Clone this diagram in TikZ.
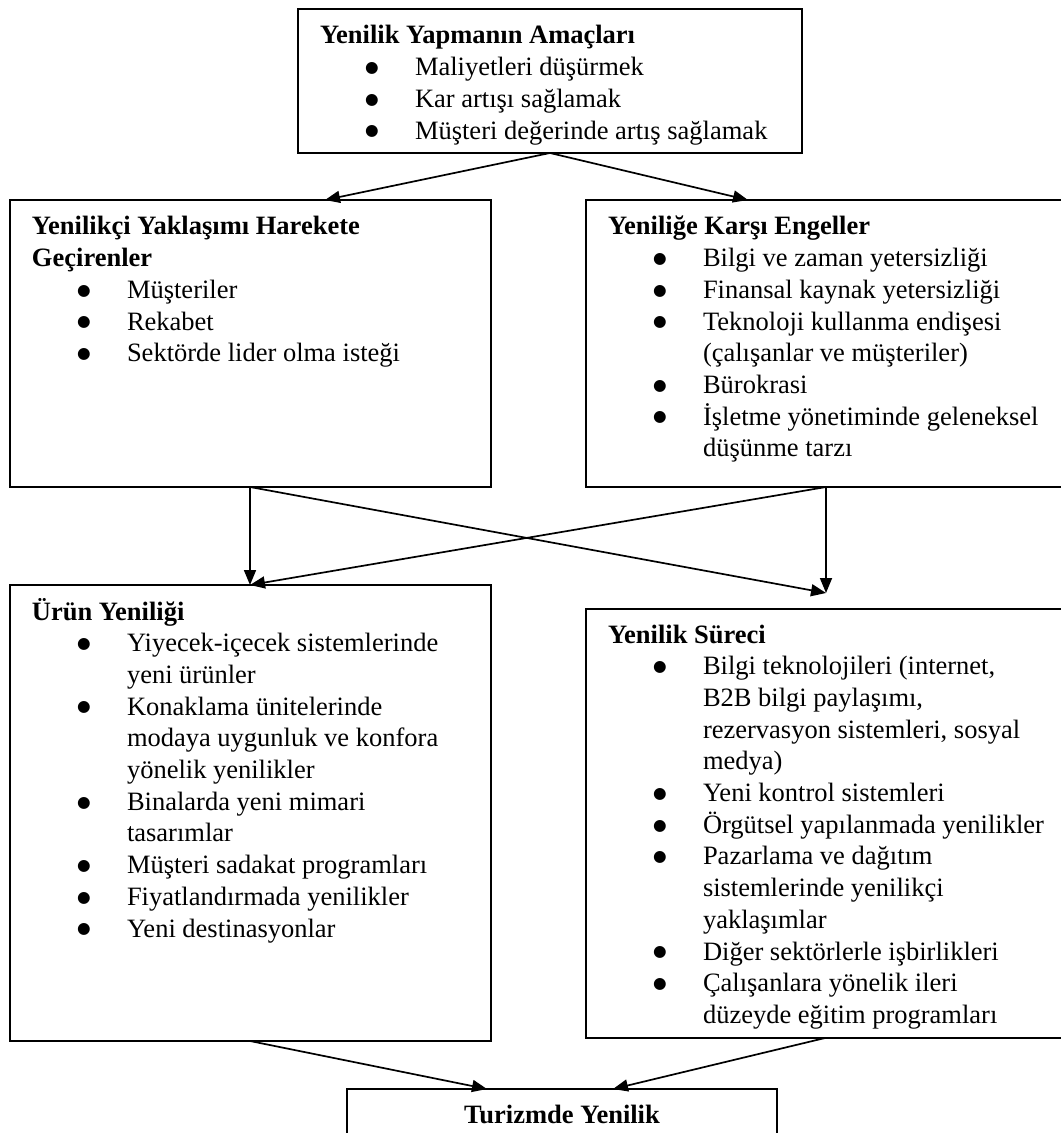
\documentclass[tikz,border=0pt]{standalone}
\usepackage{fontspec}
\setmainfont{Liberation Serif}
\newfontfamily\dotfont{DejaVu Sans}
\usetikzlibrary{arrows.meta,calc}

% bullet line, continuation line and a fixed-height strut for the first line
\newcommand\bdot{\raisebox{1.6pt}{\dotfont\fontsize{7.8}{0}\selectfont ●}}
\newcommand\bitem{\hspace*{26pt}\makebox[0pt]{\bdot}\hspace*{21.5pt}}
\newcommand\bcont{\hspace*{47.5pt}}
\newcommand\lstrut{\rule{0pt}{12pt}}

\begin{document}
\begin{tikzpicture}[x=0.5pt,y=-0.5pt,
  box/.style={draw, line width=1pt, rectangle, inner sep=0pt, outer sep=0pt, anchor=north west},
  txt/.style={anchor=north west, inner sep=0pt, outer sep=0pt, align=left,
              font=\fontsize{13.25}{15.85}\selectfont},
  conn/.style={line width=0.85pt, -{Triangle[length=7.5pt,width=6pt]}}]
\useasboundingbox[fill=white] (0,0) rectangle (1060,1133);

% frames
\node[box, minimum width=252pt, minimum height=72pt]    (top) at (298,9) {};
\node[box, minimum width=240.5pt, minimum height=143.5pt] (lb) at (10,200) {};
\node[box, minimum width=245pt, minimum height=143.5pt]   (rb) at (586,200) {};
\node[box, minimum width=240.5pt, minimum height=228pt]   (pl) at (10,585) {};
\node[box, minimum width=245pt, minimum height=214.5pt]   (pr) at (586,609) {};
\node[box, minimum width=215pt, minimum height=30pt]      (tb) at (347,1089) {};

% contents
\node[txt] (toptxt) at (320,20) {\lstrut\textbf{Yenilik Yapmanın Amaçları}\\
  \bitem Maliyetleri düşürmek\\
  \bitem Kar artışı sağlamak\\
  \bitem Müşteri değerinde artış sağlamak};

\node[txt] (lbtxt) at (32,211) {\lstrut\textbf{Yenilikçi Yaklaşımı Harekete}\\
  \textbf{Geçirenler}\\
  \bitem Müşteriler\\
  \bitem Rekabet\\
  \bitem Sektörde lider olma isteği};

\node[txt] (rbtxt) at (608,211) {\lstrut\textbf{Yeniliğe Karşı Engeller}\\
  \bitem Bilgi ve zaman yetersizliği\\
  \bitem Finansal kaynak yetersizliği\\
  \bitem Teknoloji kullanma endişesi\\
  \bcont (çalışanlar ve müşteriler)\\
  \bitem Bürokrasi\\
  \bitem İşletme yönetiminde geleneksel\\
  \bcont düşünme tarzı};

\node[txt] (pltxt) at (32,596) {\lstrut\textbf{Ürün Yeniliği}\\
  \bitem Yiyecek-içecek sistemlerinde\\
  \bcont yeni ürünler\\
  \bitem Konaklama ünitelerinde\\
  \bcont modaya uygunluk ve konfora\\
  \bcont yönelik yenilikler\\
  \bitem Binalarda yeni mimari\\
  \bcont tasarımlar\\
  \bitem Müşteri sadakat programları\\
  \bitem Fiyatlandırmada yenilikler\\
  \bitem Yeni destinasyonlar};

\node[txt] (prtxt) at (608,619) {\lstrut\textbf{Yenilik Süreci}\\
  \bitem Bilgi teknolojileri (internet,\\
  \bcont B2B bilgi paylaşımı,\\
  \bcont rezervasyon sistemleri, sosyal\\
  \bcont medya)\\
  \bitem Yeni kontrol sistemleri\\
  \bitem Örgütsel yapılanmada yenilikler\\
  \bitem Pazarlama ve dağıtım\\
  \bcont sistemlerinde yenilikçi\\
  \bcont yaklaşımlar\\
  \bitem Diğer sektörlerle işbirlikleri\\
  \bitem Çalışanlara yönelik ileri\\
  \bcont düzeyde eğitim programları};

\node[anchor=base, inner sep=0pt, font=\fontsize{13.25}{15.85}\selectfont] (tbtxt)
  at (562,1123) {\textbf{Turizmde Yenilik}};

% connector end points
\coordinate (lbout) at ($(lb.south west)+(240,0)$);
\coordinate (rbout) at ($(rb.south west)+(240,0)$);
\coordinate (plin)  at ($(pl.north west)+(240,0)$);
\coordinate (prin)  at ($(pr.north west)+(240,-16)$);

% connectors
\draw[conn] (top.south) -- ($(lb.north west)+(315,0)$);
\draw[conn] (top.south) -- ($(rb.north west)+(162,0)$);
\draw[conn] (lbout) -- (plin);
\draw[conn] (rbout) -- (prin);
\draw[conn] (lbout) -- (prin);
\draw[conn] (rbout) -- (plin);
\draw[conn] ($(pl.south west)+(240,0)$) -- ($(tb.north west)+(140,0)$);
\draw[conn] ($(pr.south west)+(239,0)$) -- ($(tb.north west)+(266,0)$);
\end{tikzpicture}
\end{document}
